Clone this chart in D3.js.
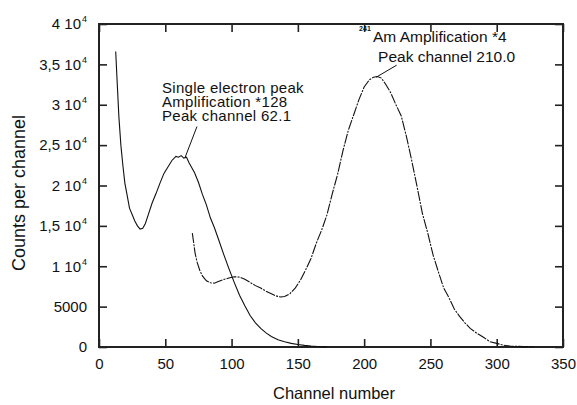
<!DOCTYPE html>
<html>
<head>
<meta charset="utf-8">
<script src="https://d3js.org/d3.v7.min.js"></script>
<style>
body { margin: 0; background: #fff; }
text { font-family: "Liberation Sans", Arial, sans-serif; fill: #111; }
.tick text { font-size: 15px; }
.curve { fill: none; stroke: #111; stroke-width: 1.1; }
.am { stroke-dasharray: 10,1.2,2,1.2; }
</style>
</head>
<body>
<script>
// single electron spectrum (amplification *128)
var seChannel = [12.6, 13.5, 15, 16.5, 18, 19.5, 21, 23, 25, 27, 29, 31, 33, 35, 37, 40, 43, 46, 49, 52, 55, 58, 60, 62, 64, 66, 68, 70, 72, 75, 78, 81, 84, 87, 90, 94, 98, 102, 106, 110, 114, 118, 122, 126, 130, 135, 140, 145, 150, 155, 160, 165, 172];
var seCounts = [36600, 33500, 28500, 25000, 22500, 20300, 19000, 17200, 16400, 15600, 15000, 14600, 14700, 15300, 16300, 17800, 19000, 20300, 21500, 22300, 23100, 23600, 23500, 23700, 23400, 23500, 22800, 22200, 21600, 20400, 18900, 17600, 16000, 14800, 13400, 11500, 9700, 8000, 6400, 5100, 3900, 3000, 2300, 1750, 1300, 900, 650, 450, 300, 200, 120, 60, 20];

// 241Am spectrum (amplification *4)
var amChannel = [70.4, 71.5, 72.5, 74, 76, 78, 81, 84, 87, 90, 94, 98, 102, 106, 110, 114, 118, 122, 126, 130, 134, 137, 140, 144, 148, 152, 156, 160, 164, 168, 172, 176, 180, 184, 188, 192, 196, 200, 204, 207, 210, 213, 216, 220, 224, 228, 232, 236, 240, 244, 248, 252, 256, 260, 264, 268, 272, 276, 280, 285, 290, 295, 300, 305, 310, 315, 320, 328];
var amCounts = [14100, 12800, 11600, 10500, 9500, 8800, 8200, 7950, 7900, 8100, 8350, 8550, 8700, 8650, 8400, 8000, 7600, 7300, 6900, 6600, 6300, 6200, 6250, 6600, 7300, 8300, 9600, 11000, 12900, 14500, 16400, 19000, 21400, 24300, 26800, 28700, 30600, 32200, 33100, 33400, 33500, 33300, 32600, 31500, 30000, 28600, 26000, 23000, 19800, 16500, 14100, 11400, 9300, 7300, 6100, 4700, 3800, 3000, 2300, 1700, 1200, 650, 450, 220, 130, 80, 50, 30];

var xTicks = [0, 50, 100, 150, 200, 250, 300, 350];
var yTicks = [0, 5000, 10000, 15000, 20000, 25000, 30000, 35000, 40000];
var yTickLabels = ["0", "5000", "1 10|4", "1,5 10|4", "2 10|4", "2,5 10|4", "3 10|4", "3,5 10|4", "4 10|4"];

var W = 577, H = 405;
var margin = {top: 24, right: 14, bottom: 58, left: 99};
var width = W - margin.left - margin.right,
    height = H - margin.top - margin.bottom;

var x = d3.scaleLinear().domain([0, 350]).range([0, width]);
var y = d3.scaleLinear().domain([0, 40000]).range([height, 0]);

var svg = d3.select("body").append("svg")
    .attr("width", W)
    .attr("height", H);
var g = svg.append("g")
    .attr("transform", "translate(" + margin.left + "," + margin.top + ")");

// axes, ticks pointing inward on all four sides
g.append("g")
    .attr("class", "x axis")
    .attr("transform", "translate(0," + height + ")")
    .call(d3.axisBottom(x).tickValues(xTicks).tickSize(-8).tickPadding(11));
g.append("g")
    .attr("class", "x2 axis")
    .call(d3.axisTop(x).tickValues(xTicks).tickSize(-8).tickFormat(""));

var yAxis = g.append("g")
    .attr("class", "y axis")
    .call(d3.axisLeft(y).tickValues(yTicks).tickSize(-8).tickPadding(12).tickFormat(""));
g.append("g")
    .attr("class", "y2 axis")
    .attr("transform", "translate(" + width + ",0)")
    .call(d3.axisRight(y).tickValues(yTicks).tickSize(-8).tickFormat(""));

// y labels like "3,5 10^4"
yAxis.selectAll(".tick text").each(function(d, i) {
  var parts = yTickLabels[i].split("|");
  var t = d3.select(this);
  t.append("tspan").text(parts[0]);
  if (parts.length > 1) {
    t.append("tspan").attr("dx", 1).attr("dy", -7).style("font-size", "9px").text(parts[1]);
  }
});

g.selectAll(".axis path.domain").remove();
g.selectAll(".axis line").attr("stroke", "#222").attr("stroke-width", 1.6);

g.append("rect")
    .attr("width", width)
    .attr("height", height)
    .attr("fill", "none")
    .attr("stroke", "#222")
    .attr("stroke-width", 2);

var line = d3.line()
    .x(function(d) { return x(d[0]); })
    .y(function(d) { return y(d[1]); });

g.append("path")
    .datum(d3.zip(seChannel, seCounts))
    .attr("class", "curve")
    .attr("d", line);
g.append("path")
    .datum(d3.zip(amChannel, amCounts))
    .attr("class", "curve am")
    .attr("d", line);

// annotations
var seText = g.append("text").style("font-size", "15px").style("letter-spacing", "0.3px")
    .attr("x", x(47.5)).attr("y", y(31500));
["Single electron peak", "Amplification *128", "Peak channel 62.1"].forEach(function(s, i) {
  seText.append("tspan").attr("x", x(47.5)).attr("dy", i ? 14.3 : 0).text(s);
});
g.append("line")
    .attr("x1", x(73.9)).attr("y1", y(27300))
    .attr("x2", x(65)).attr("y2", y(23500))
    .attr("stroke", "#111").attr("stroke-width", 1);

g.append("text")
    .style("font-size", "7px").style("font-weight", "bold")
    .attr("x", x(196.2)).attr("y", y(39100))
    .text("241");
g.append("text").style("font-size", "15.5px")
    .attr("x", x(206.7)).attr("y", y(37750))
    .text("Am Amplification *4");
g.append("text").style("font-size", "15.5px")
    .attr("x", x(210.5)).attr("y", y(35270))
    .text("Peak channel 210.0");
g.append("line")
    .attr("x1", x(224.5)).attr("y1", y(34900))
    .attr("x2", x(209)).attr("y2", y(33400))
    .attr("stroke", "#111").attr("stroke-width", 1);

// axis titles
svg.append("text")
    .attr("x", margin.left + width / 2 + 3)
    .attr("y", 399)
    .attr("text-anchor", "middle")
    .style("font-size", "16.5px")
    .text("Channel number");
svg.append("text")
    .attr("transform", "translate(25,193) rotate(-90)")
    .attr("text-anchor", "middle")
    .style("font-size", "18px")
    .text("Counts per channel");
</script>
</body>
</html>
